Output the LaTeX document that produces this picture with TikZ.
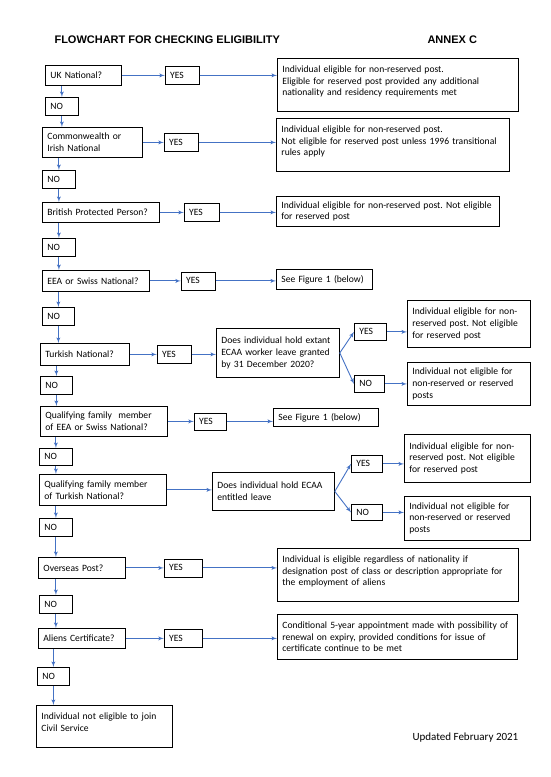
\documentclass[tikz,border=0pt]{standalone}
\usepackage{fontspec}
\setmainfont{Carlito}
\newfontfamily\headfont{Liberation Sans}
\frenchspacing
\usetikzlibrary{shapes,arrows,positioning}
\definecolor{flowblue}{RGB}{68,114,196}
\tikzset{boxsize/.style 2 args={text width=#1pt-10pt, minimum height=#2pt}}
\tikzstyle{block} = [rectangle, draw, line width=0.8pt, anchor=north west,
    align=left, inner xsep=5pt, inner ysep=2pt,
    font=\fontsize{9.6}{11.7}\selectfont]
\tikzstyle{answer} = [block, boxsize={34}{18}]
\tikzstyle{topblock} = [block, text height=12pt]
\tikzstyle{line} = [draw, flowblue, line width=0.9pt, -latex']

\begin{document}
\begin{tikzpicture}[x=1pt, y=-1pt]
    \useasboundingbox (0,0) rectangle (550,777);
    % Headings
    \node [anchor=west, font=\headfont\bfseries\fontsize{11}{13}\selectfont] (title) at (51,40) {FLOWCHART FOR CHECKING ELIGIBILITY};
    \node [anchor=west, font=\headfont\bfseries\fontsize{11}{13}\selectfont] (annex) at (424,40) {ANNEX C};
    \node [anchor=west, font=\fontsize{11}{13}\selectfont] (updated) at (409,738) {Updated February 2021};
    % Place nodes: questions down the left
    \node [block, boxsize={76}{20}] (uk) at (45,65) {UK National?};
    \node [block, boxsize={33}{18}] (no1) at (45,97) {NO};
    \node [block, boxsize={100}{30}] (cw) at (42,127) {Commonwealth or\\Irish National};
    \node [block, boxsize={33}{18}] (no2) at (42,170) {NO};
    \node [block, boxsize={117}{20}] (bpp) at (42,202) {British Protected Person?};
    \node [block, boxsize={33}{18}] (no3) at (42,238) {NO};
    \node [block, boxsize={107}{21}] (eea) at (42,270) {EEA or Swiss National?};
    \node [block, boxsize={32}{18}] (no4) at (42,307) {NO};
    \node [block, boxsize={89}{22}] (turk) at (40,343) {Turkish National?};
    \node [block, boxsize={32}{18}] (no5) at (40,376) {NO};
    \node [block, boxsize={127}{30}] (qeea) at (40,406) {Qualifying family~ member\\of EEA or Swiss National?};
    \node [block, boxsize={33}{17}] (no6) at (39,448) {NO};
    \node [block, boxsize={127}{31}] (qturk) at (39,474) {Qualifying family member\\of Turkish National?};
    \node [block, boxsize={33}{18}] (no7) at (39,518) {NO};
    \node [block, boxsize={87}{21}] (over) at (38,557) {Overseas Post?};
    \node [block, boxsize={33}{18}] (no8) at (39,595) {NO};
    \node [block, boxsize={87}{20}] (alien) at (38,628) {Aliens Certificate?};
    \node [block, boxsize={32}{18}] (no9) at (37,667) {NO};
    \node [topblock, boxsize={136}{41}, text depth=26pt] (final) at (36,705) {Individual not eligible to join\\Civil Service};
    % YES answers
    \node [answer, right=43pt of uk] (yes1) {YES};
    \node [answer, right=21pt of cw] (yes2) {YES};
    \node [answer, boxsize={35}{18}, right=24pt of bpp] (yes3) {YES};
    \node [answer, right=31pt of eea] (yes4) {YES};
    \node [answer, right=27pt of turk] (yes5) {YES};
    \node [answer, boxsize={32}{17}, right=26pt of qeea] (yes6) {YES};
    \node [answer, boxsize={38}{18}, right=38pt of over] (yes8) {YES};
    \node [answer, boxsize={38}{18}, right=38pt of alien] (yes9) {YES};
    % Outcomes on the right
    \node [topblock, boxsize={241}{53}, text depth=37pt] (res1) at (277,58) {Individual eligible for non-reserved post.\\Eligible for reserved post provided any additional\\nationality and residency requirements met};
    \node [topblock, boxsize={233}{52}, text depth=37pt] (res2) at (276,118) {Individual eligible for non-reserved post.\\Not eligible for reserved post unless 1996 transitional\\rules apply};
    \node [block, boxsize={223}{30}] (res3) at (276,196) {Individual eligible for non-reserved post. Not eligible\\for reserved post};
    \node [block, boxsize={96}{20}] (res4) at (276,269) {See Figure 1 (below)};
    \node [block, boxsize={123}{49}] (ecaa1) at (216,328) {Does individual hold extant\\ECAA worker leave granted\\by 31 December 2020?};
    \node [block, boxsize={32}{17}] (yes5b) at (354,323) {YES};
    \node [block, boxsize={30}{17}] (no5b) at (354,375) {NO};
    \node [block, boxsize={123}{47}] (res5y) at (407,300) {Individual eligible for non-\\reserved post. Not eligible\\for reserved post};
    \node [block, boxsize={123}{43}] (res5n) at (407,362) {Individual not eligible for\\non-reserved or reserved\\posts};
    \node [block, boxsize={105}{18}] (res6) at (273,408) {See Figure 1 (below)};
    \node [block, boxsize={122}{38}] (ecaa2) at (212,472) {Does individual hold ECAA\\entitled leave};
    \node [block, boxsize={31}{17}] (yes7b) at (351,455) {YES};
    \node [block, boxsize={31}{16}] (no7b) at (351,504) {NO};
    \node [block, boxsize={126}{48}] (res7y) at (404,434) {Individual eligible for non-\\reserved post. Not eligible\\for reserved post};
    \node [block, boxsize={126}{44}] (res7n) at (404,496) {Individual not eligible for\\non-reserved or reserved\\posts};
    \node [topblock, boxsize={241}{53}, text depth=37pt] (res8) at (277,548) {Individual is eligible regardless of nationality if\\designation post of class or description appropriate for\\the employment of aliens};
    \node [block, boxsize={240}{45}] (res9) at (277,614) {Conditional 5-year appointment made with possibility of\\renewal on expiry, provided conditions for issue of\\certificate continue to be met};
    % Draw edges down the left
    \path [line] (uk.south -| no1) -- (no1);
    \path [line] (no1) -- (no1 |- cw.north);
    \path [line] (cw.south -| no2) -- (no2);
    \path [line] (no2) -- (no2 |- bpp.north);
    \path [line] (bpp.south -| no3) -- (no3);
    \path [line] (no3) -- (no3 |- eea.north);
    \path [line] (eea.south -| no4) -- (no4);
    \path [line] (no4) -- (no4 |- turk.north);
    \path [line] (turk.south -| no5) -- (no5);
    \path [line] (no5) -- (no5 |- qeea.north);
    \path [line] (qeea.south -| no6) -- (no6);
    \path [line] (no6) -- (no6 |- qturk.north);
    \path [line] (qturk.south -| no7) -- (no7);
    \path [line] (no7) -- (no7 |- over.north);
    \path [line] (over.south -| no8) -- (no8);
    \path [line] (no8) -- (no8 |- alien.north);
    \path [line] (alien.south -| no9) -- (no9);
    \path [line] (no9) -- (no9 |- final.north);
    % Draw edges to the right
    \path [line] (uk) -- (yes1);
    \path [line] (yes1) -- (yes1 -| res1.west);
    \path [line] (cw) -- (yes2);
    \path [line] (yes2) -- (yes2 -| res2.west);
    \path [line] (bpp) -- (yes3);
    \path [line] (yes3) -- (yes3 -| res3.west);
    \path [line] (eea) -- (yes4);
    \path [line] (yes4) -- (yes4 -| res4.west);
    \path [line] (turk) -- (yes5);
    \path [line] (yes5) -- (yes5 -| ecaa1.west);
    \path [line] (ecaa1.east) -- (yes5b.west);
    \path [line] (ecaa1.east) -- (no5b.west);
    \path [line] (yes5b) -- (yes5b -| res5y.west);
    \path [line] (no5b) -- (no5b -| res5n.west);
    \path [line] (qeea) -- (yes6);
    \path [line] (yes6) -- (yes6 -| res6.west);
    \path [line] (qturk) -- (qturk -| ecaa2.west);
    \path [line] (ecaa2.east) -- (yes7b.west);
    \path [line] (ecaa2.east) -- (no7b.west);
    \path [line] (yes7b) -- (yes7b -| res7y.west);
    \path [line] (no7b) -- (no7b -| res7n.west);
    \path [line] (over) -- (yes8);
    \path [line] (yes8) -- (yes8 -| res8.west);
    \path [line] (alien) -- (yes9);
    \path [line] (yes9) -- (yes9 -| res9.west);
\end{tikzpicture}
\end{document}
